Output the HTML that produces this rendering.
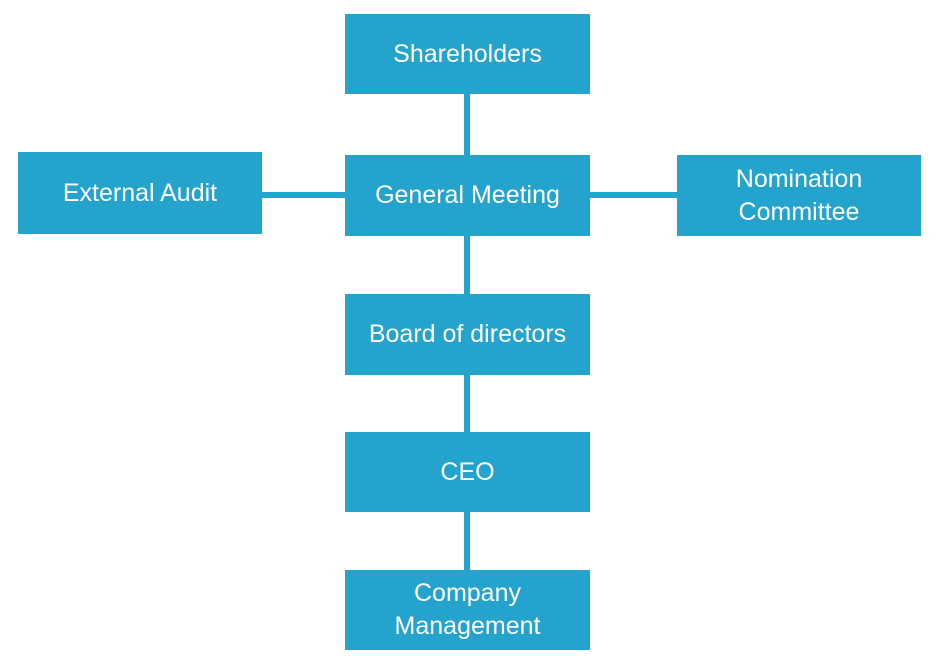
<!DOCTYPE html>
<html><head><style>
body{margin:0;width:937px;height:656px;background:#fff;position:relative;overflow:hidden;font-family:"Liberation Sans","DejaVu Sans",sans-serif}
.b{position:absolute;background:#24a3cd;color:#fff;font-size:25px;display:flex;align-items:center;justify-content:center;text-align:center;line-height:33px}
.l{position:absolute;background:#24a3cd}
</style></head><body>
<div class="l" style="left:464px;top:93px;width:6px;height:478px"></div>
<div class="l" style="left:262px;top:192px;width:416px;height:6px"></div>
<div class="b" style="left:345px;top:14px;width:245px;height:80px">Shareholders</div>
<div class="b" style="left:18px;top:152px;width:244px;height:82px">External Audit</div>
<div class="b" style="left:345px;top:155px;width:245px;height:81px">General Meeting</div>
<div class="b" style="left:677px;top:155px;width:244px;height:81px">Nomination<br>Committee</div>
<div class="b" style="left:345px;top:294px;width:245px;height:81px">Board of directors</div>
<div class="b" style="left:345px;top:432px;width:245px;height:80px">CEO</div>
<div class="b" style="left:345px;top:570px;width:245px;height:80px">Company<br>Management</div>
</body></html>
